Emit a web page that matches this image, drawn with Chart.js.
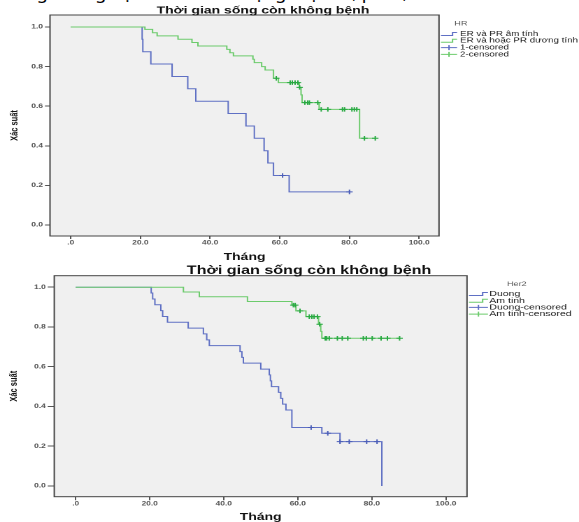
<!DOCTYPE html>
<html lang="vi">
<head>
<meta charset="utf-8">
<title>Thời gian sống còn không bệnh</title>
<script src="https://cdn.jsdelivr.net/npm/chart.js@4.4.1/dist/chart.umd.min.js"></script>
<style>
  html, body { margin: 0; padding: 0; background: #fff; }
  body { width: 579px; height: 522px; position: relative; overflow: hidden; }
  .cap { position: absolute; left: 6px; top: 0; width: 573px; height: 5px; overflow: hidden; }
  .cap span { position: absolute; left: 0; top: -17px; font: 18px/18px "Noto Sans", sans-serif; white-space: nowrap; color: #000; }
  /* the picture is stretched sideways, so each chart is drawn narrow and scaled */
  .box { position: absolute; left: 0; width: 414px; transform: scaleX(1.39855); transform-origin: 0 0; }
</style>
</head>
<body>
<div class="cap"><span>sống không bệnh theo tình trạng thụ thể, p &lt; 0,05</span></div>
<div class="box" style="top:0;height:262px"><canvas id="chartHR"></canvas></div>
<div class="box" style="top:262px;height:260px"><canvas id="chartHer2"></canvas></div>
<script>
// ---- values ----
var xTicks = [0, 20, 40, 60, 80, 100];
var yTicks = [0, 0.2, 0.4, 0.6, 0.8, 1.0];

// HR : ER và PR âm tính
var hrNegTime = [0, 20.5, 20.7, 23.0, 29.1, 33.6, 35.9, 45.2, 50.3, 52.7, 55.5, 56.6, 58.2, 62.7, 80.0];
var hrNegSurv = [1, 0.938, 0.875, 0.813, 0.75, 0.688, 0.625, 0.563, 0.5, 0.438, 0.375, 0.313, 0.25, 0.167, 0.167];
var hrNegCensor = [60.8, 80.0];

// HR : ER và hoặc PR dương tính
var hrPosTime = [0, 21.3, 23.5, 24.8, 30.8, 34.8, 36.5, 44.8, 45.7, 46.7, 52.3, 52.7, 54.8, 55.8, 58.2, 59.6, 65.6, 66.1, 66.4, 71.3, 82.9, 87.4];
var hrPosSurv = [1, 0.988, 0.971, 0.955, 0.938, 0.922, 0.904, 0.887, 0.870, 0.854, 0.837, 0.820, 0.800, 0.783, 0.741, 0.719, 0.695, 0.657, 0.618, 0.584, 0.438, 0.438];
var hrPosCensor = [59.0, 63.0, 63.6, 64.4, 65.2, 65.7, 67.2, 68.0, 68.5, 70.9, 71.9, 73.8, 78.0, 78.6, 80.7, 81.4, 82.1, 84.3, 87.4];

// Her2 : Duong
var her2PosTime = [0, 20.4, 20.8, 21.4, 23.0, 23.5, 24.8, 30.4, 34.5, 35.4, 36.1, 44.4, 44.9, 45.3, 50.0, 52.3, 52.6, 52.9, 54.8, 55.4, 55.9, 56.8, 58.4, 66.5, 71.4, 82.7];
var her2PosSurv = [1, 0.971, 0.941, 0.912, 0.882, 0.853, 0.824, 0.794, 0.765, 0.735, 0.706, 0.676, 0.647, 0.618, 0.588, 0.559, 0.529, 0.5, 0.471, 0.441, 0.412, 0.382, 0.294, 0.265, 0.223, 0];
var her2PosCensor = [63.6, 68.1, 71.4, 73.9, 78.6, 81.4];

// Her2 : Am tinh
var her2NegTime = [0, 29.1, 33.4, 46.4, 58.4, 59.5, 62.2, 65.6, 66.2, 66.5, 87.5];
var her2NegSurv = [1, 0.976, 0.952, 0.928, 0.910, 0.881, 0.852, 0.814, 0.778, 0.743, 0.743];
var her2NegCensor = [58.8, 59.3, 60.6, 63.1, 63.8, 64.4, 65.3, 65.9, 67.4, 67.8, 68.5, 70.7, 72.0, 73.5, 77.7, 78.5, 80.1, 82.5, 84.2, 87.5];

var hrLabels = ['ER và PR âm tính', 'ER và hoặc PR dương tính', '1-censored', '2-censored'];
var her2Labels = ['Duong', 'Am tinh', 'Duong-censored', 'Am tinh-censored'];

var blue = '#5f70c4';
var green = '#6ccb6c';
var blueMark = '#4a5db8';
var greenMark = '#27a940';
var FONT = '"Liberation Sans", Arial, sans-serif';

function stepPoints(times, surv) {
    return times.map(function (t, i) { return { x: t, y: surv[i] }; });
}

// a censor mark sits on the curve level at that time
function censorPoints(censor, times, surv) {
    return censor.map(function (c) {
        var s = surv[0];
        for (var i = 0; i < times.length; i++) {
            if (times[i] <= c) s = surv[i];
        }
        return { x: c, y: s };
    });
}

function curve(times, surv, color, order) {
    return {
        type: 'line', data: stepPoints(times, surv), stepped: true,
        borderColor: color, borderWidth: 1, pointRadius: 0, fill: false, order: order
    };
}

function marks(censor, times, surv, color, order) {
    return {
        type: 'scatter', data: censorPoints(censor, times, surv),
        pointStyle: 'cross', pointRadius: 2.3, borderColor: color, borderWidth: 1, order: order
    };
}

// grey plot area and the frame round it
var framePlugin = {
    id: 'frame',
    beforeDraw: function (chart) {
        var a = chart.chartArea, ctx = chart.ctx;
        ctx.save();
        ctx.fillStyle = '#f0f0f0';
        ctx.fillRect(a.left, a.top, a.right - a.left, a.bottom - a.top);
        ctx.restore();
    },
    afterDatasetsDraw: function (chart) {
        var a = chart.chartArea, ctx = chart.ctx;
        ctx.save();
        ctx.strokeStyle = '#444';
        ctx.lineWidth = 1;
        ctx.strokeRect(a.left, a.top, a.right - a.left, a.bottom - a.top);
        ctx.restore();
    }
};

// title and SPSS-like legend
function textPlugin(c) {
    return {
        id: 'texts',
        afterDraw: function (chart) {
            var ctx = chart.ctx, lg = c.legend;
            ctx.save();
            ctx.textBaseline = 'middle';
            ctx.textAlign = 'center';
            ctx.fillStyle = '#111';
            ctx.font = 'bold ' + c.titleSize + 'px ' + FONT;
            ctx.fillText('Thời gian sống còn không bệnh', c.titleX, c.titleY);

            ctx.fillStyle = '#555';
            ctx.font = '6.5px ' + FONT;
            ctx.fillText(lg.head, lg.headX, lg.headY);

            ctx.textAlign = 'left';
            ctx.font = lg.size + 'px ' + FONT;
            lg.labels.forEach(function (label, i) {
                var y = lg.y0 + i * lg.dy;
                var mid = (lg.x0 + lg.x1) / 2;
                ctx.strokeStyle = i % 2 === 0 ? blue : green;
                ctx.lineWidth = 1;
                ctx.beginPath();
                if (i < 2) {
                    var xr = lg.x0 + (lg.x1 - lg.x0) * 0.72;
                    ctx.moveTo(lg.x0, y + 1.5);
                    ctx.lineTo(xr, y + 1.5);
                    ctx.lineTo(xr, y - 1.5);
                    ctx.lineTo(lg.x1, y - 1.5);
                } else {
                    ctx.moveTo(lg.x0, y);
                    ctx.lineTo(lg.x1, y);
                    ctx.moveTo(mid, y - 2.5);
                    ctx.lineTo(mid, y + 2.5);
                }
                ctx.stroke();
                ctx.fillStyle = '#222';
                ctx.fillText(label, lg.tx, y);
            });
            ctx.restore();
        }
    };
}

function kmChart(id, c) {
    return new Chart(document.getElementById(id), {
        type: 'scatter',
        data: { datasets: c.datasets },
        options: {
            responsive: true,
            maintainAspectRatio: false,
            animation: false,
            devicePixelRatio: 2,
            layout: { padding: c.padding },
            plugins: { legend: { display: false }, tooltip: { enabled: false }, title: { display: false } },
            scales: {
                x: {
                    type: 'linear', min: c.xMin, max: c.xMax,
                    afterBuildTicks: function (s) { s.ticks = xTicks.map(function (v) { return { value: v }; }); },
                    afterFit: function (s) { s.height = c.xHeight; },
                    ticks: {
                        autoSkip: false, maxRotation: 0, padding: c.xPad, color: '#555',
                        font: { size: 6, weight: 'bold', family: FONT },
                        callback: function (v) { return v === 0 ? '.0' : v.toFixed(1); }
                    },
                    grid: { drawOnChartArea: false, tickLength: c.xTick, color: '#555' },
                    border: { display: false },
                    title: {
                        display: true, text: 'Tháng', color: '#111',
                        font: { size: 10, weight: 'bold', family: FONT, lineHeight: 1 },
                        padding: { top: 0, bottom: 0 }
                    }
                },
                y: {
                    type: 'linear', min: c.yMin, max: c.yMax,
                    afterBuildTicks: function (s) { s.ticks = yTicks.map(function (v) { return { value: v }; }); },
                    afterFit: function (s) { s.width = c.yWidth; },
                    ticks: {
                        padding: 1.4, color: '#555',
                        font: { size: 6, weight: 'bold', family: FONT },
                        callback: function (v) { return v.toFixed(1); }
                    },
                    grid: { drawOnChartArea: false, tickLength: c.yTick, color: '#555' },
                    border: { display: false },
                    title: {
                        display: true, text: 'Xác suất', color: '#111',
                        font: { size: 7.5, weight: 'bold', family: FONT, lineHeight: 1 },
                        padding: { top: c.yTitlePad, bottom: 0 }
                    }
                }
            }
        },
        plugins: [framePlugin, textPlugin(c)]
    });
}

kmChart('chartHR', {
    datasets: [
        curve(hrNegTime, hrNegSurv, blue, 4),
        curve(hrPosTime, hrPosSurv, green, 3),
        marks(hrNegCensor, hrNegTime, hrNegSurv, blueMark, 2),
        marks(hrPosCensor, hrPosTime, hrPosSurv, greenMark, 1)
    ],
    padding: { left: 0, top: 15, right: 100.1, bottom: 0 },
    xMin: -5.94, xMax: 105.7, yMin: -0.0556, yMax: 1.0606,
    xHeight: 26, yWidth: 35.75, xTick: 3, xPad: 0, yTick: 3.6, yTitlePad: 6.9,
    titleSize: 10, titleX: 188, titleY: 10.5,
    legend: { head: 'HR', headX: 329.6, headY: 23.5, labels: hrLabels, size: 7,
              y0: 34, dy: 6.8, x0: 315.3, x1: 326.8, tx: 328.9 }
});

kmChart('chartHer2', {
    datasets: [
        curve(her2PosTime, her2PosSurv, blue, 4),
        curve(her2NegTime, her2NegSurv, green, 3),
        marks(her2PosCensor, her2PosTime, her2PosSurv, blueMark, 2),
        marks(her2NegCensor, her2NegTime, her2NegSurv, greenMark, 1)
    ],
    padding: { left: 0, top: 13.7, right: 80.1, bottom: 0 },
    xMin: -5.78, xMax: 105.7, yMin: -0.054, yMax: 1.058,
    xHeight: 25.3, yWidth: 38.8, xTick: 3.5, xPad: 0.2, yTick: 4.7, yTitlePad: 6.4,
    titleSize: 11.5, titleX: 221, titleY: 9,
    legend: { head: 'Her2', headX: 369.5, headY: 22, labels: her2Labels, size: 7.5,
              y0: 32, dy: 6.7, x0: 335.3, x1: 348.9, tx: 349.9 }
});
</script>
</body>
</html>
